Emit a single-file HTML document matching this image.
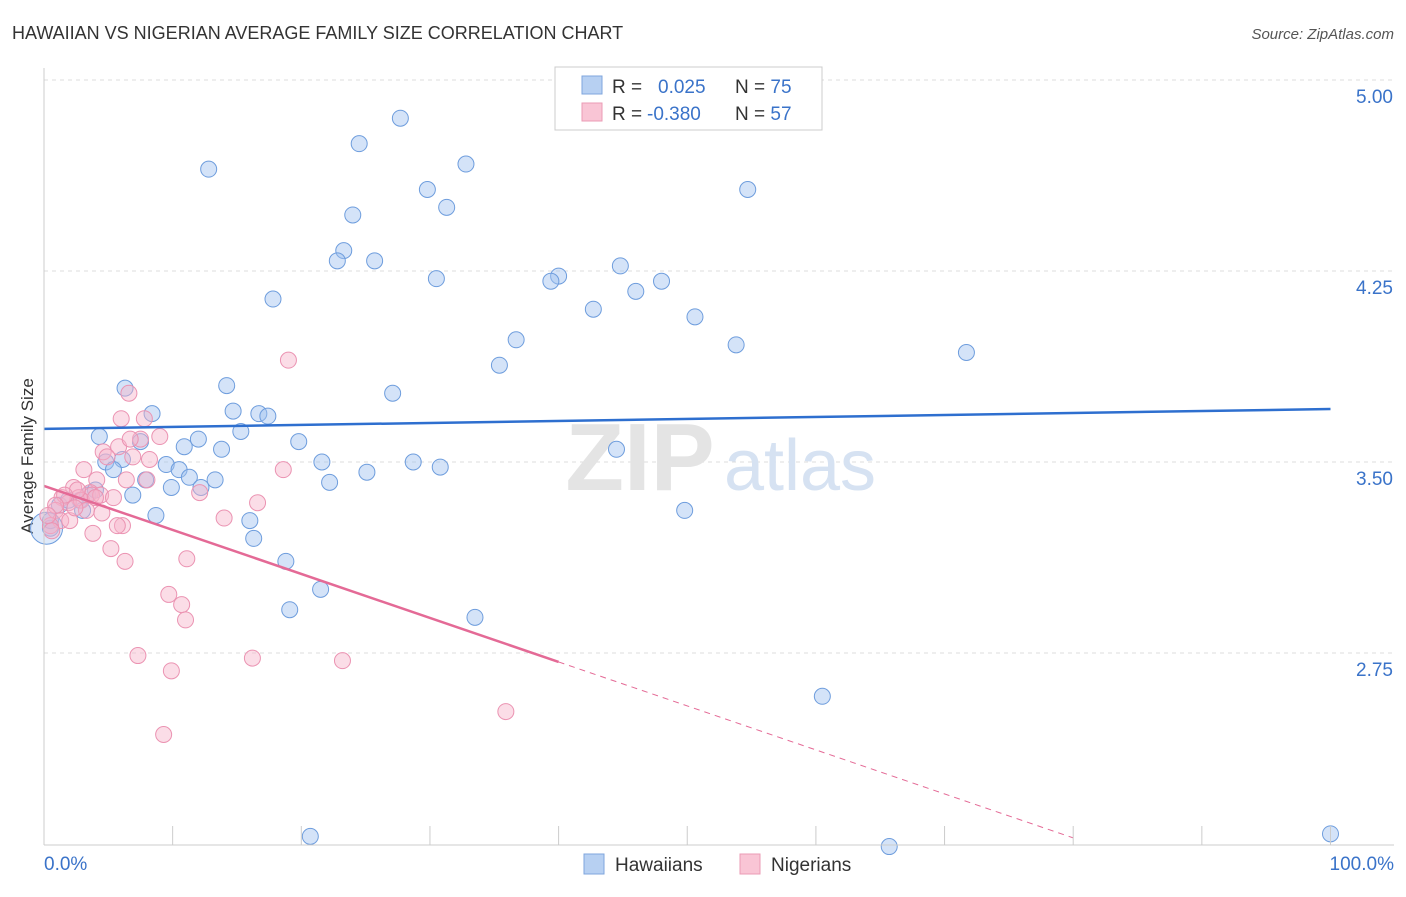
<!DOCTYPE html>
<html><head><meta charset="utf-8"><style>
body{margin:0;background:#fff;font-family:"Liberation Sans",sans-serif}
svg text{font-family:"Liberation Sans",sans-serif}
</style></head><body>
<svg id="chart" width="1406" height="892">
<text x="12" y="39" font-size="18" fill="#333">HAWAIIAN VS NIGERIAN AVERAGE FAMILY SIZE CORRELATION CHART</text>
<text x="1394" y="39" font-size="15" fill="#555" font-style="italic" text-anchor="end">Source: ZipAtlas.com</text>
<text transform="translate(33,456) rotate(-90)" font-size="17" fill="#333" text-anchor="middle">Average Family Size</text>
<g id="grid"></g>
<g id="watermark">
<text x="640" y="490" font-size="96" fill="#e4e4e4" font-family="Liberation Serif" font-weight="bold" text-anchor="middle">ZIP</text>
<text x="800" y="490" font-size="72" fill="#d6e2f2" text-anchor="middle">atlas</text>
</g>
<g id="pts"></g>
<g id="lines"></g>
<g id="axes"></g>
<g>
<rect x="555" y="67" width="267" height="63" fill="#fff" stroke="#ccc"/>
<rect x="582" y="76" width="20" height="18" fill="#b7d0f2" stroke="#7fa6dd"/>
<rect x="582" y="103" width="20" height="18" fill="#f9c5d5" stroke="#eb9bb5"/>
<text x="612" y="93" font-size="19" fill="#333">R = <tspan fill="#3a73c9" x="658">0.025</tspan><tspan x="735" fill="#333">N = </tspan><tspan fill="#3a73c9">75</tspan></text>
<text x="612" y="120" font-size="19" fill="#333">R = <tspan fill="#3a73c9" x="647">-0.380</tspan><tspan x="735" fill="#333">N = </tspan><tspan fill="#3a73c9">57</tspan></text>
</g>
<g>
<rect x="584" y="854" width="20" height="20" fill="#b7d0f2" stroke="#7fa6dd"/>
<text x="615" y="871" font-size="19" fill="#333">Hawaiians</text>
<rect x="740" y="854" width="20" height="20" fill="#f9c5d5" stroke="#eb9bb5"/>
<text x="771" y="871" font-size="19" fill="#333">Nigerians</text>
</g>
</svg>
<script>
const yTicks=[5.00,4.25,3.50,2.75];
const yTickLabels=["5.00","4.25","3.50","2.75"];
const xTickLabels=["0.0%","100.0%"];
const hawX=[27.7,24.5,12.8,32.8,29.8,54.7,31.3,24.0,23.3,22.8,25.7,44.8,40.0,39.4,30.5,48.0,46.0,17.8,42.7,50.6,36.7,53.8,71.7,35.4,6.3,14.2,27.1,8.4,14.7,16.7,17.4,15.3,4.3,7.5,12.0,10.9,19.8,13.8,6.1,4.8,9.5,21.6,28.7,30.8,44.5,5.4,10.5,11.3,25.1,7.9,13.3,9.9,12.2,22.2,6.9,3.4,2.8,1.2,3.0,8.7,16.0,49.8,16.3,18.8,21.5,19.1,33.5,60.5,20.7,65.7,100.0,0.5,0.5,1.9,4.0];
const hawY=[4.85,4.75,4.65,4.67,4.57,4.57,4.50,4.47,4.33,4.29,4.29,4.27,4.23,4.21,4.22,4.21,4.17,4.14,4.10,4.07,3.98,3.96,3.93,3.88,3.79,3.80,3.77,3.69,3.70,3.69,3.68,3.62,3.60,3.58,3.59,3.56,3.58,3.55,3.51,3.50,3.49,3.50,3.50,3.48,3.55,3.47,3.47,3.44,3.46,3.43,3.43,3.40,3.40,3.42,3.37,3.37,3.35,3.33,3.31,3.29,3.27,3.31,3.20,3.11,3.00,2.92,2.89,2.58,2.03,1.99,2.04,3.24,3.27,3.35,3.39];
const nigX=[19.0,6.6,6.0,7.8,9.0,7.5,5.8,4.6,4.9,6.9,3.1,4.1,8.0,2.3,3.6,2.7,3.7,4.4,1.4,1.9,2.9,3.3,0.9,4.5,14.0,1.3,0.5,0.6,3.8,6.1,5.7,5.2,6.3,16.6,12.1,18.6,11.1,9.7,10.7,11.0,7.3,9.9,16.2,23.2,9.3,35.9,2.6,1.6,0.9,0.3,2.0,5.4,2.4,4.0,6.4,8.2,6.7];
const nigY=[3.90,3.77,3.67,3.67,3.60,3.59,3.56,3.54,3.52,3.52,3.47,3.43,3.43,3.40,3.38,3.36,3.37,3.37,3.36,3.34,3.35,3.31,3.31,3.30,3.28,3.27,3.25,3.23,3.22,3.25,3.25,3.16,3.11,3.34,3.38,3.47,3.12,2.98,2.94,2.88,2.74,2.68,2.73,2.72,2.43,2.52,3.39,3.37,3.33,3.29,3.27,3.36,3.32,3.36,3.43,3.51,3.59];
const hawLine=[3.630,3.708];
const nigLine=[3.406,2.715];
const X0=44,X1=1330.5,Y0=80,PXV=254.67;
const sx=p=>X0+p*(X1-X0)/100;
const sy=v=>Y0+(5-v)*PXV;
const NS="http://www.w3.org/2000/svg";
function mk(t,a,parent){const e=document.createElementNS(NS,t);for(const k in a)e.setAttribute(k,a[k]);parent.appendChild(e);return e;}
const grid=document.getElementById('grid'),axes=document.getElementById('axes'),pts=document.getElementById('pts'),lines=document.getElementById('lines');
yTicks.forEach((v,i)=>{
 const l=mk('line',{x1:44,x2:1394,y1:sy(v),y2:sy(v),stroke:'#ddd','stroke-dasharray':'4,4'},grid);
 
 
 const t=mk('text',{x:1393,y:sy(v)+23,'font-size':19,fill:'#3a73c9','text-anchor':'end'},axes);
 t.textContent=yTickLabels[i];
 
 
});
mk('line',{x1:44,x2:44,y1:68,y2:845,stroke:'#ccc'},axes);
mk('line',{x1:44,x2:1394,y1:845,y2:845,stroke:'#ccc'},axes);
for(let i=0;i<=10;i++){const t=mk('line',{x1:sx(i*10),x2:sx(i*10),y1:826,y2:845,stroke:'#ccc'},axes);
 
 }
[[xTickLabels[0],44,'start'],[xTickLabels[1],1394,'end']].forEach(d=>{
 const t=mk('text',{x:d[1],y:870,'font-size':19,fill:'#3a73c9','text-anchor':d[2]},axes);t.textContent=d[0];
 
 });
hawX.forEach((x,i)=>{const c=mk('circle',{cx:sx(x),cy:sy(hawY[i]),r:8,fill:'rgba(160,194,240,0.45)',stroke:'#6e9ddd','stroke-width':1},pts);
 
 });
const big=mk('circle',{cx:sx(0.2),cy:sy(3.24),r:16,fill:'rgba(160,194,240,0.35)',stroke:'#6e9ddd'},pts);


nigX.forEach((x,i)=>{const c=mk('circle',{cx:sx(x),cy:sy(nigY[i]),r:8,fill:'rgba(247,180,202,0.45)',stroke:'#eb93b2','stroke-width':1},pts);
 
 });
const hl=mk('line',{x1:sx(0),y1:sy(hawLine[0]),x2:sx(100),y2:sy(hawLine[1]),stroke:'#2e6fcf','stroke-width':2.5},lines);


const nv=p=>nigLine[0]+(nigLine[1]-nigLine[0])*p/40;
const nl=mk('line',{x1:sx(0),y1:sy(nv(0)),x2:sx(40),y2:sy(nv(40)),stroke:'#e46a96','stroke-width':2.5},lines);


const nd=mk('line',{x1:sx(40),y1:sy(nv(40)),x2:sx(80),y2:sy(nv(80)),stroke:'#e46a96','stroke-width':1,'stroke-dasharray':'6,5'},lines);


</script>
</body></html>
